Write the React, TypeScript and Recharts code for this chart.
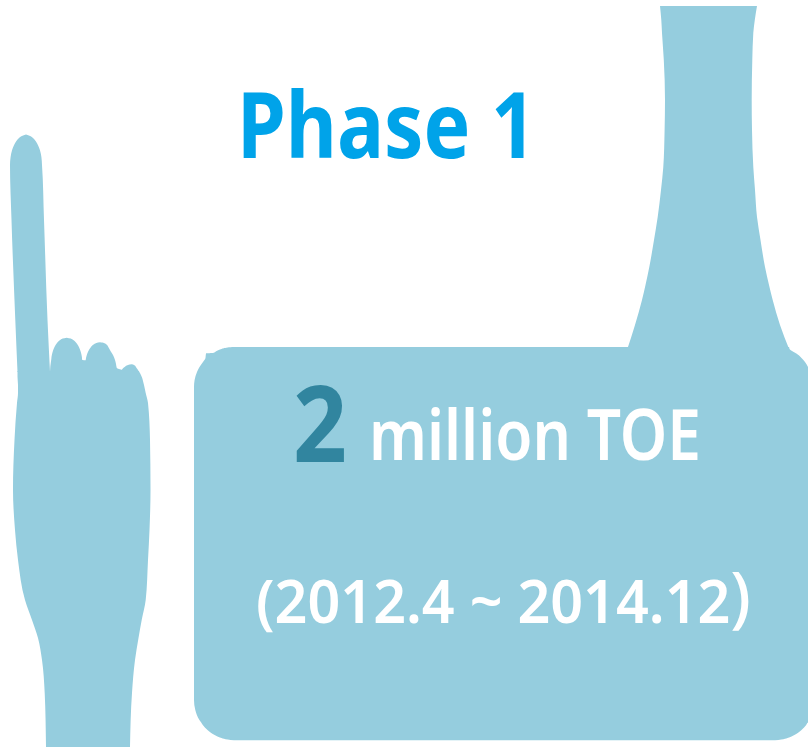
import { Area, ComposedChart, XAxis, YAxis } from "recharts";

const BLUE = "#95cdde";
const FONT = "'Noto Sans'";

// outlines: for each height, left and right edge
const fingerY = [134.5, 136, 138, 141, 145, 150, 157, 165, 220, 320, 372];
const fingerLeft = [26, 21.9, 19, 16.4, 14.1, 12.1, 10.6, 10, 11.5, 15.3, 17.5];
const fingerRight = [26, 30.1, 33, 35.6, 37.9, 39.9, 41.4, 42, 44, 47.5, 50];

const palmY = [371, 376.7, 385, 393, 403, 440, 490, 530, 560, 600, 620, 638, 660, 693, 747];
const palmLeft = [17.5, 17.5, 18, 18, 17, 14.5, 13, 15, 18, 25, 32, 38, 42, 44.7, 46];
const palmRight = [138.8, 141.7, 144, 145.7, 148, 150, 150.5, 149.5, 148, 145.7, 141.7, 138.5, 135, 132, 130];

const knuckle1Y = [337.7, 338.5, 340, 343, 347, 352, 357, 360, 360.5, 372];
const knuckle1Left = [66.7, 62.7, 60.1, 57, 54.5, 52.6, 51.5, 51.2, 51.1, 50];
const knuckle1Right = [66.7, 70.7, 73.3, 76.4, 78.9, 80.8, 81.9, 82.2, 87, 87];

const knuckle2Y = [342.3, 343, 344.5, 347, 351, 355, 360, 364, 367.7, 369, 370, 372];
const knuckle2Left = [100, 96.4, 93.6, 91, 88.4, 86.8, 85.7, 85.5, 85, 85, 85, 85];
const knuckle2Right = [100, 104, 106.5, 108.3, 110.5, 113, 115, 116, 116.7, 119, 122, 122];

const knuckle3Y = [364.3, 365, 366.7, 368.3, 370, 372];
const knuckle3Left = [131.7, 128, 125, 123, 121.7, 118];
const knuckle3Right = [131.7, 134, 135.8, 136.7, 138, 139];

const stackY = [6, 20, 33, 60, 100, 130, 167, 190, 217, 240, 267, 285, 300, 325, 350];
const stackLeft = [660, 661.3, 662, 663.8, 665, 664.6, 663.3, 661, 657.7, 654, 649.3, 645.5, 642, 635, 627];
const stackRight = [757, 754.8, 753.3, 752.3, 751.7, 752, 753.3, 755, 757, 760.5, 765, 769, 772.7, 780, 789.5];

const boxY = [347, 347.5, 349, 351, 353, 353.3, 358, 362, 367, 372, 380, 387, 700, 710, 720, 722.6, 725, 730, 735, 738, 739.5, 740.3];
const boxLeft = [234, 227.7, 221.5, 216.6, 213, 206, 205.5, 203, 199.5, 197, 194.6, 194, 194, 195.3, 199.4, 201.2, 202.8, 207.5, 214.6, 221.5, 227.7, 234];
const boxRight = [789, 789.2, 789.5, 792, 795.5, 796, 801.5, 805, 808, 810, 812, 815, 815, 815, 815, 808, 806.2, 801.5, 794.4, 787.5, 781.3, 775];

const toRows = (ys: number[], left: number[], right: number[]) =>
  ys.map((y, i) => ({ y, edge: [left[i], right[i]] }));

const shapes = [
  { name: "finger", rows: toRows(fingerY, fingerLeft, fingerRight) },
  { name: "palm", rows: toRows(palmY, palmLeft, palmRight) },
  { name: "knuckle1", rows: toRows(knuckle1Y, knuckle1Left, knuckle1Right) },
  { name: "knuckle2", rows: toRows(knuckle2Y, knuckle2Left, knuckle2Right) },
  { name: "knuckle3", rows: toRows(knuckle3Y, knuckle3Left, knuckle3Right) },
  { name: "stack", rows: toRows(stackY, stackLeft, stackRight) },
  { name: "box", rows: toRows(boxY, boxLeft, boxRight) },
];

// text, left, baseline, width, size, weight, colour
const labels: [string, number, number, number, number, number, string][] = [
  ["Phase 1", 237, 158, 299, 91, 700, "#00a3e9"],
  ["2", 293, 462, 54, 105, 700, "#31859f"],
  ["million TOE", 369, 460, 332, 70, 600, "#fff"],
];
const periodText = "(2012.4 ~ 2014.12";

export default function App() {
  return (
    <div style={{ position: "absolute", left: 0, top: 0, width: 808, height: 749, overflow: "hidden" }}>
      <ComposedChart width={808} height={749} layout="vertical" margin={{ top: 0, right: 0, bottom: 0, left: 0 }}>
        <XAxis type="number" domain={[0, 808]} hide allowDataOverflow />
        <YAxis type="number" dataKey="y" domain={[0, 749]} hide />
        {shapes.map((s) => (
          <Area
            key={s.name}
            data={s.rows}
            dataKey="edge"
            type="monotone"
            fill={BLUE}
            fillOpacity={1}
            stroke="none"
            dot={false}
            activeDot={false}
            isAnimationActive={false}
          />
        ))}
      </ComposedChart>
      {/* labels sit over the box, so they get their own layer */}
      <svg width={808} height={749} style={{ position: "absolute", left: 0, top: 0 }} fontFamily={FONT}>
        {labels.map(([word, x, y, w, size, weight, color]) => (
          <text key={word} x={x} y={y} textLength={w} lengthAdjust="spacingAndGlyphs" fontSize={size} fontWeight={weight} fill={color}>
            {word}
          </text>
        ))}
        {/* the closing bracket is drawn larger than the opening one in the original */}
        <text x={256} y={623} textLength={495} lengthAdjust="spacingAndGlyphs" fontSize={59} fontWeight={600} fill="#fff">
          {periodText}
          <tspan fontSize={68} fontWeight={500} dy={-3}>)</tspan>
        </text>
      </svg>
    </div>
  );
}
